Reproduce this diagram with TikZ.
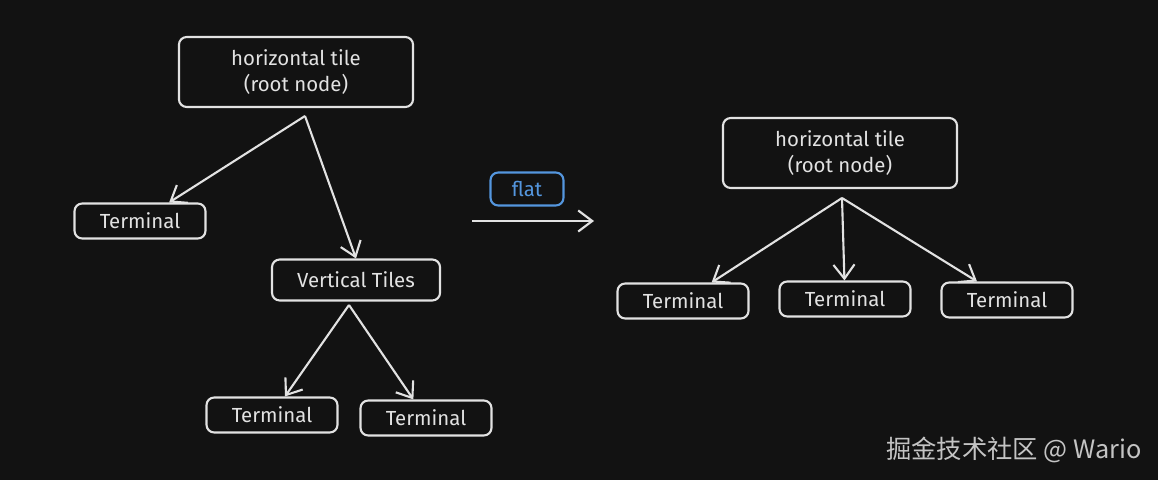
\documentclass[tikz,border=0pt]{standalone}
\usepackage{fontspec}
\setmainfont{Fira Sans}
\newfontfamily\cjkfont{Noto Sans CJK SC}
\usetikzlibrary{arrows.meta}
\definecolor{bgdark}{RGB}{18,18,18}
\definecolor{inkgray}{RGB}{226,226,226}
\definecolor{flatblue}{RGB}{84,150,222}
\definecolor{markgray}{RGB}{196,196,196}
\tikzstyle{place}=[draw=inkgray, text=inkgray, line width=1.5pt, rounded corners=5.5pt,
  font=\fontsize{14.5}{19}\selectfont, align=center, inner sep=0pt]
\tikzstyle{rootbox}=[place, minimum width=5.85cm, minimum height=1.75cm]
\tikzstyle{leaf}=[place, minimum width=3.275cm, minimum height=0.875cm]
\tikzstyle{link}=[draw=inkgray, line width=1.5pt, -{Straight Barb[length=10pt,width=15pt,line width=1.5pt]}]

\begin{document}
\begin{tikzpicture}[x=0.025cm,y=-0.025cm]
\fill[bgdark] (0,0) rectangle (1158,480);
\useasboundingbox (0,0) rectangle (1158,480);
%
\draw (296,72) node[rootbox](root){horizontal tile\\(root node)};
\draw (140,221) node[leaf](term){Terminal};
\draw (356,280) node[place, minimum width=4.2cm, minimum height=1.025cm](tiles){Vertical Tiles};
\draw (272,415) node[leaf](termA){Terminal};
\draw (426,418) node[leaf](termB){Terminal};
\coordinate (fork) at (305,116);
\coordinate (forkT) at (349,305);
\draw[link] (fork) -- (term);
\draw[link] (fork) -- (tiles.north);
\draw[link] (forkT) -- (termA);
\draw[link] (forkT) -- (termB);
%
\draw (527,189) node[place, draw=flatblue, text=flatblue, minimum width=1.825cm, minimum height=0.825cm](flat){flat};
\coordinate (flatL) at (472,221);
\coordinate (flatR) at (594,221);
\draw[link] (flatL) -- (flatR);
%
\draw (840,153) node[rootbox](flatroot){horizontal tile\\(root node)};
\draw (683,301) node[leaf](termC){Terminal};
\draw (845,299) node[leaf](termD){Terminal};
\draw (1007,300) node[leaf](termE){Terminal};
\coordinate (forkF) at (842,198);
\draw[link] (forkF) -- (termC);
\draw[link] (forkF) -- (termD);
\draw[link] (forkF) -- (termE);
%
\draw (1014,450) node[text=markgray, font=\cjkfont\fontsize{18}{21}\selectfont](mark){掘金技术社区 @ Wario};
\end{tikzpicture}
\end{document}
